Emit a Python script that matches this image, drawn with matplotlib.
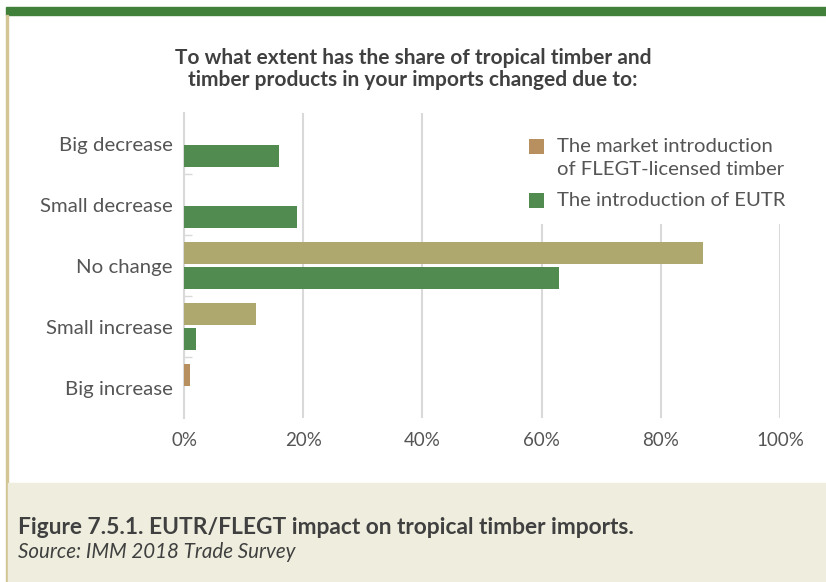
"""EUTR/FLEGT impact on tropical timber imports (IMM 2018 Trade Survey)."""

import matplotlib
matplotlib.use("Agg")
import matplotlib.pyplot as plt
from matplotlib.patches import Rectangle
import numpy as np

CATEGORIES = ["Big decrease", "Small decrease", "No change", "Small increase", "Big increase"]
FLEGT = [0, 0, 87, 12, 1]
EUTR = [16, 19, 63, 2, 0]
XTICKS = [0, 20, 40, 60, 80, 100]
LEGEND_LABELS = ["The market introduction\nof FLEGT-licensed timber", "The introduction of EUTR"]

GREEN = "#518B50"
TAN = "#B89060"
OLIVE = "#AEA76E"
FLEGT_COLORS = [OLIVE, OLIVE, OLIVE, OLIVE, TAN]
TEXT = "#555555"
DARK = "#404040"
W, H = 826, 582

plt.rcParams["font.family"] = ["Lato", "DejaVu Sans"]


def fx(px):
    return px / W


def fy(px):
    return 1 - px / H


fig = plt.figure(figsize=(W / 100, H / 100), dpi=100)

# page furniture: green top band, left rule, caption panel
fig.patches.append(Rectangle((fx(6), fy(15)), 1, 8 / H, transform=fig.transFigure,
                             color="#41803B", zorder=0))
fig.patches.append(Rectangle((fx(6), 0), 1.6 / W, fy(15), transform=fig.transFigure,
                             color="#D3C594", zorder=0))
fig.patches.append(Rectangle((fx(7.6), 0), 1, 99 / H, transform=fig.transFigure,
                             color="#EFEEDE", zorder=0))

ax = fig.add_axes([fx(184), fy(418), 596 / W, 305 / H])
y = np.arange(len(CATEGORIES))
h = 0.36
ax.barh(y - 0.2, FLEGT, height=h, color=FLEGT_COLORS, zorder=3)
ax.barh(y + 0.2, EUTR, height=h, color=GREEN, zorder=3)

ax.set_xlim(0, 100)
ax.set_ylim(len(CATEGORIES) - 0.5, -0.5)
ax.set_xticks(XTICKS)
ax.set_xticklabels([f"{v}%" for v in XTICKS])
ax.set_yticks(y)
ax.set_yticklabels(CATEGORIES)
ax.set_yticks(np.arange(len(CATEGORIES) - 1) + 0.5, minor=True)
ax.tick_params(axis="y", which="major", length=0, pad=8, labelsize=14.7, labelcolor=TEXT)
ax.tick_params(axis="y", which="minor", length=6, direction="in", color="#D9D9D9", width=1)
ax.tick_params(axis="x", length=0, pad=10, labelsize=13.5, labelcolor=TEXT)
ax.grid(axis="x", color="#D9D9D9", linewidth=1.5, zorder=0)
ax.set_axisbelow(True)
for side in ["top", "right", "bottom"]:
    ax.spines[side].set_visible(False)
ax.spines["left"].set_color("#D9D9D9")
ax.spines["left"].set_linewidth(1.5)

# legend drawn by hand so the square sits on the first line of the wrapped label
ax.add_patch(Rectangle((fx(520), fy(224)), 290 / W, 112 / H, transform=fig.transFigure,
                       facecolor="white", edgecolor="none", zorder=2, clip_on=False))
for label, color, top in zip(LEGEND_LABELS, [TAN, GREEN], [146, 200]):
    ax.add_patch(Rectangle((fx(529), fy(top + 7.5)), 14.5 / W, 14.5 / H, transform=fig.transFigure,
                           facecolor=color, edgecolor="none", zorder=4, clip_on=False))
    ax.text(fx(557), fy(top - 8), label, transform=fig.transFigure, ha="left", va="top",
            fontsize=14.6, color=TEXT, linespacing=1.42, zorder=4)

fig.text(fx(413), fy(69),
         "To what extent has the share of tropical timber and\ntimber products in your imports changed due to:",
         ha="center", va="center", fontsize=15, fontweight="bold", color=DARK, linespacing=1.15)

fig.text(fx(18), fy(528), "Figure 7.5.1. EUTR/FLEGT impact on tropical timber imports.",
         ha="left", va="center", fontsize=16.4, fontweight="bold", color=DARK)
fig.text(fx(18), fy(552), "Source: IMM 2018 Trade Survey",
         ha="left", va="center", fontsize=14.8, style="italic", color=DARK)

fig.savefig("out.png", dpi=100)
